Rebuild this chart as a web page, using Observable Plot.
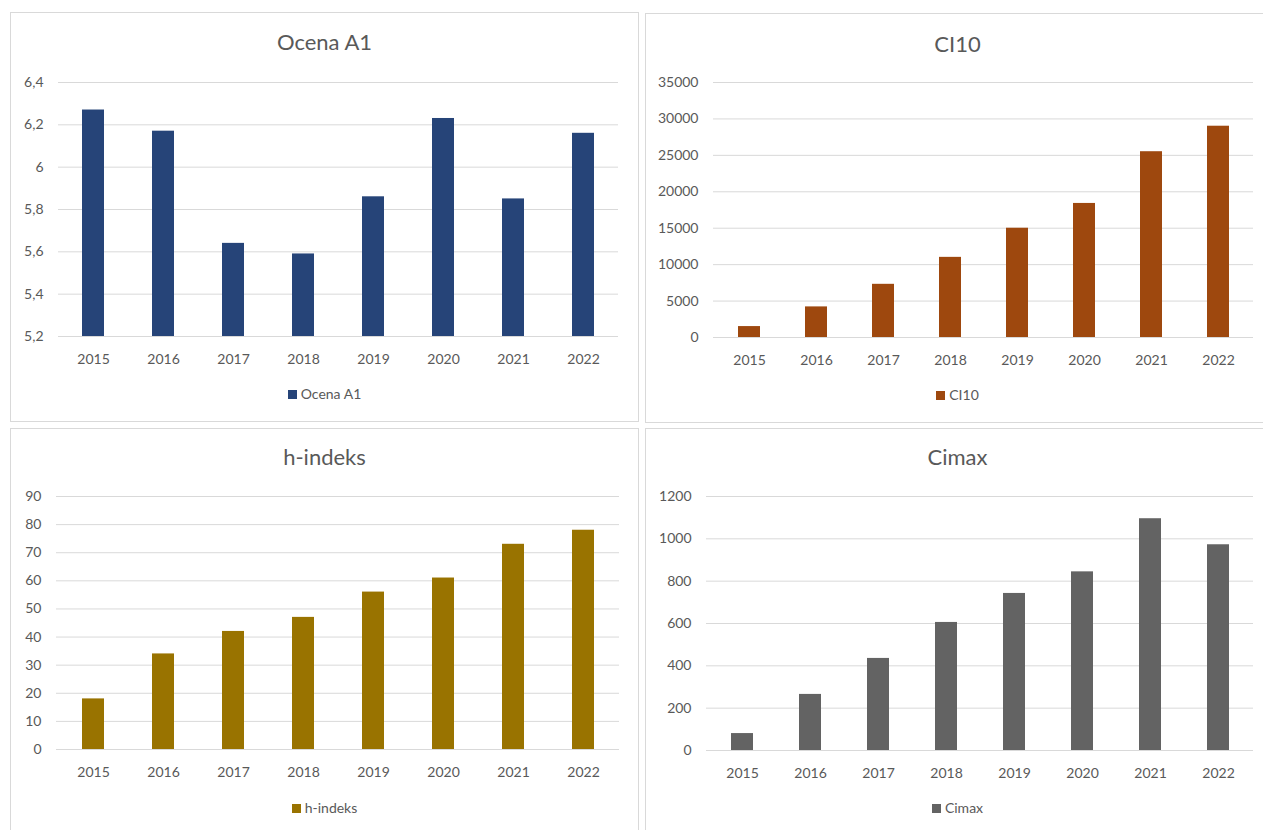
<!DOCTYPE html>
<html><head><meta charset="utf-8">
<script src="https://cdn.jsdelivr.net/npm/d3@7"></script>
<script src="https://cdn.jsdelivr.net/npm/@observablehq/plot@0.6"></script>
<style>
html,body{margin:0;padding:0;background:#fff;overflow:hidden;width:1263px;height:830px;}
body{font-family:Lato,"Open Sans",sans-serif;position:relative;}
.panel{position:absolute;border:1px solid #d9d9d9;box-sizing:border-box;background:#fff;overflow:hidden;}
.title{position:absolute;left:0;right:0;text-align:center;font-size:22px;line-height:1.2;color:#595959;white-space:nowrap;}
.plot{position:absolute;left:0;}
.legend{position:absolute;left:0;right:0;display:flex;justify-content:center;align-items:center;font-size:14px;line-height:1.2;color:#595959;}
.sw{display:inline-block;width:9px;height:9px;margin-right:4px;}
</style>
</head><body>
<script>
// ---- data ----
const years = ["2015","2016","2017","2018","2019","2020","2021","2022"];
const ocenaA1 = [6.27, 6.17, 5.64, 5.59, 5.86, 6.23, 5.85, 6.16];
const ci10 = [1500, 4200, 7300, 11000, 15000, 18400, 25500, 29000];
const hIndeks = [18, 34, 42, 47, 56, 61, 73, 78];
const cimax = [80, 265, 435, 605, 742, 844, 1095, 972];

const ocenaTicks = [5.2, 5.4, 5.6, 5.8, 6, 6.2, 6.4];
const ci10Ticks = [0, 5000, 10000, 15000, 20000, 25000, 30000, 35000];
const hTicks = [0, 10, 20, 30, 40, 50, 60, 70, 80, 90];
const cimaxTicks = [0, 200, 400, 600, 800, 1000, 1200];

const names = ["Ocena A1", "CI10", "h-indeks", "Cimax"];
const colors = ["#264478", "#9E480E", "#997300", "#636363"];

// ---- layout (absolute page coordinates) ----
const layouts = [
  {box:[10,12,639,422], plot:[58,618,82,336], titleY:43, legendY:395},
  {box:[645,13,1270,423], plot:[713,1253,82,337], titleY:45, legendY:396},
  {box:[10,428,639,845], plot:[56,619,496,749], titleY:458, legendY:809},
  {box:[645,428,1270,845], plot:[706,1253,496,750], titleY:458, legendY:809}
];

const series = [
  {values: ocenaA1, ticks: ocenaTicks, fmt: d => String(d).replace(".", ",")},
  {values: ci10, ticks: ci10Ticks, fmt: d => String(d)},
  {values: hIndeks, ticks: hTicks, fmt: d => String(d)},
  {values: cimax, ticks: cimaxTicks, fmt: d => String(d)}
];

series.forEach((s, i) => {
  const L = layouts[i];
  const [bx0, by0, bx1, by1] = L.box;
  const panel = document.createElement("div");
  panel.className = "panel";
  panel.style.left = bx0 + "px";
  panel.style.top = by0 + "px";
  panel.style.width = (bx1 - bx0) + "px";
  panel.style.height = (by1 - by0) + "px";
  document.body.appendChild(panel);

  const ox = bx0 + 1, oy = by0 + 1; // inner origin
  const innerW = bx1 - bx0 - 2;

  const title = document.createElement("div");
  title.className = "title";
  title.textContent = names[i];
  title.style.top = (L.titleY - oy - 13.8) + "px";
  panel.appendChild(title);

  const [px0, px1, py0, py1] = L.plot;
  const svgTop = py0 - 40;
  const svgH = (py1 - svgTop) + 40;
  const step = (px1 - px0) / years.length;
  const pad = 1 - 22 / step;
  const data = years.map((y, k) => ({year: y, value: s.values[k]}));
  const base = s.ticks[0];

  const chart = Plot.plot({
    width: innerW,
    height: svgH,
    marginLeft: px0 - ox,
    marginRight: innerW - (px1 - ox),
    marginTop: py0 - svgTop,
    marginBottom: svgH - (py1 - svgTop),
    style: {fontFamily: "Lato, 'Open Sans', sans-serif", fontSize: "14px", color: "#595959", background: "transparent", overflow: "visible"},
    x: {type: "band", domain: years, paddingInner: pad, paddingOuter: pad / 2, tickSize: 0, tickPadding: 18, label: null},
    y: {domain: [s.ticks[0], s.ticks[s.ticks.length - 1]], ticks: s.ticks, tickFormat: s.fmt, tickSize: 0, tickPadding: 15, label: null},
    marks: [
      Plot.ruleY(s.ticks, {stroke: "#d9d9d9", strokeWidth: 1}),
      Plot.barY(data, {x: "year", y1: d => base, y2: "value", fill: colors[i]})
    ]
  });
  chart.classList.add("plot");
  chart.style.top = (svgTop - oy) + "px";
  panel.appendChild(chart);

  const legend = document.createElement("div");
  legend.className = "legend";
  legend.style.top = (L.legendY - oy - 8.8) + "px";
  const sw = document.createElement("span");
  sw.className = "sw";
  sw.style.background = colors[i];
  const lt = document.createElement("span");
  lt.textContent = names[i];
  legend.appendChild(sw);
  legend.appendChild(lt);
  panel.appendChild(legend);
});
</script>
</body></html>
